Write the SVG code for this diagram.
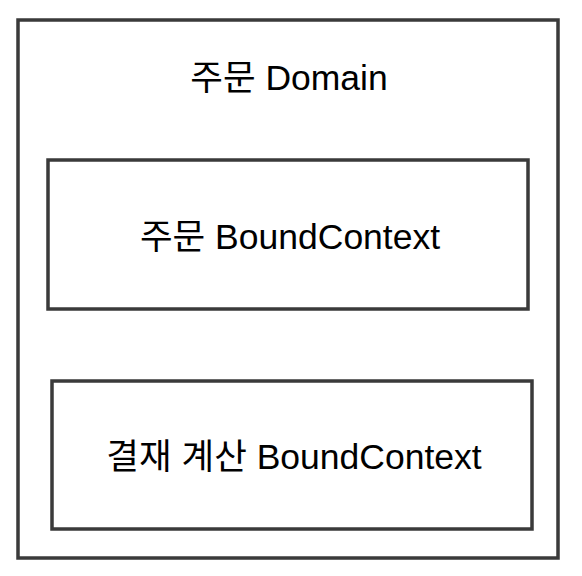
<svg xmlns="http://www.w3.org/2000/svg" width="582" height="576" viewBox="0 0 582 576">
  <style>
    .box { fill: #ffffff; stroke: #3a3a3a; stroke-width: 3.5; }
    .lbl { font-family: "Liberation Sans", "Noto Sans CJK KR", sans-serif; font-size: 35.5px; fill: #000000; text-anchor: middle; }
  </style>
  <rect x="0" y="0" width="582" height="576" fill="#ffffff"/>
  <g id="domain">
    <rect class="box" x="18" y="20" width="540" height="538"/>
    <text class="lbl" x="289" y="90">주문 Domain</text>
  </g>
  <g id="order-context">
    <rect class="box" x="48" y="160" width="480" height="149"/>
    <text class="lbl" x="290" y="249">주문 BoundContext</text>
  </g>
  <g id="payment-context">
    <rect class="box" x="52" y="381" width="480" height="148"/>
    <text class="lbl" x="294" y="469">결재 계산 BoundContext</text>
  </g>
  <g id="connectors"></g>
</svg>
